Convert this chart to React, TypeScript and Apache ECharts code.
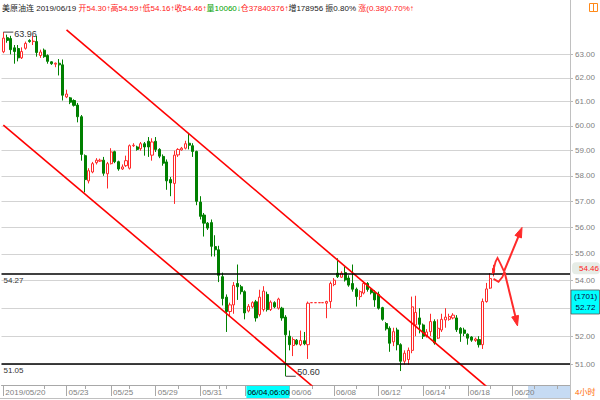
import React, { useEffect, useRef } from 'react';
import * as echarts from 'echarts';

const FONT = '"Liberation Sans", Arial, "Noto Sans CJK SC", sans-serif';
const RED = '#ff2a2a';
const GREEN = '#008000';

// x axis (4-hour bars)
const slotCount = 153;
const tickLabels = ['2019/05/20', '05/23', '05/25', '05/29', '05/31', '06/04', '06/06', '06/08', '06/12', '06/14', '06/18', '06/20'];
const tickIndex = [0, 17, 29, 41, 53, 65, 77, 89, 101, 113, 125, 137];
const minorTickIndex = [11, 22, 34, 47, 58, 60, 83, 95, 107, 119, 120, 131, 143, 149];

// y axis
const priceTicks = [51, 52, 53, 54, 55, 56, 57, 58, 59, 60, 61, 62, 63];
const priceMin = 50.3;
const priceMax = 64.49;
const levelLines = [54.27, 51.05];

// OHLC
const opens = [63.11, 63.72, 63.68, 63.28, 63.25, 62.85, 63.26, 63.60, 63.55, 63.55,
  62.95, 63.18, 62.95, 62.68, 62.58, 62.62, 62.55, 61.20, 61.16, 61.05,
  60.86, 60.38, 58.80, 57.80, 58.15, 58.52, 58.58, 58.62, 58.08, 58.48,
  58.96, 58.56, 58.27, 58.40, 58.30, 59.20, 59.15, 59.08, 59.28, 59.38,
  58.82, 59.38, 59.05, 58.77, 58.55, 57.85, 57.70, 58.83, 59.03, 59.10,
  59.30, 59.20, 58.97, 56.97, 56.47, 56.16, 56.18, 55.27, 55.15, 54.15,
  53.40, 52.88, 53.12, 53.90, 53.78, 53.60, 52.90, 53.05, 53.23, 52.77,
  52.95, 53.50, 52.95, 53.20, 53.00, 53.00, 52.68, 52.00, 51.67, 51.86,
  51.70, 51.84, 51.70, 53.20, 53.20, 53.20, 53.20, 53.18, 53.24, 53.86,
  54.28, 54.13, 54.30, 54.10, 53.90, 53.69, 53.42, 53.55, 53.90, 53.68,
  53.58, 53.50, 53.02, 52.45, 52.28, 51.80, 52.22, 51.70, 51.12, 51.18,
  51.50, 52.40, 52.65, 52.40, 52.00, 52.16, 52.52, 51.93, 52.22, 52.58,
  52.60, 52.65, 52.65, 52.28, 52.22, 52.07, 51.97, 51.85, 51.88, 51.70,
  53.24, 53.73, 54.30];
const closes = [63.70, 63.60, 63.20, 63.12, 62.85, 63.12, 63.47, 63.55, 63.57, 63.08,
  63.10, 62.90, 62.70, 62.60, 62.62, 62.55, 61.27, 61.32, 60.98, 60.85,
  60.38, 58.85, 57.85, 58.20, 58.48, 58.62, 58.62, 58.10, 58.48, 58.95,
  58.56, 58.27, 58.35, 58.60, 59.20, 59.22, 59.05, 59.28, 59.15, 59.15,
  59.35, 59.05, 58.78, 58.50, 57.80, 57.72, 58.82, 59.05, 59.10, 59.28,
  59.22, 58.97, 57.00, 56.42, 56.16, 55.97, 55.28, 55.15, 54.20, 53.35,
  52.88, 53.12, 53.83, 53.78, 53.60, 52.83, 53.07, 53.20, 52.65, 53.40,
  53.62, 52.95, 53.22, 53.05, 53.33, 52.65, 52.05, 51.70, 51.88, 51.72,
  51.85, 51.73, 53.18, 53.20, 53.20, 53.20, 53.20, 53.24, 53.90, 54.02,
  54.15, 54.28, 54.03, 53.84, 53.69, 53.42, 53.60, 53.90, 53.68, 53.56,
  53.30, 53.00, 52.60, 52.26, 51.75, 52.16, 51.70, 51.12, 51.40, 51.50,
  53.05, 52.85, 52.42, 52.00, 52.15, 52.52, 51.76, 52.28, 52.60, 52.68,
  52.70, 52.75, 52.23, 52.10, 52.10, 51.93, 51.86, 51.90, 51.70, 53.24,
  53.70, 54.08, 54.46];
const lows = [63.05, 63.50, 63.00, 62.60, 62.70, 62.80, 63.20, 63.50, 63.40, 62.90,
  62.85, 62.85, 62.60, 62.55, 62.45, 62.10, 61.05, 61.15, 60.90, 60.80,
  60.15, 58.60, 57.35, 57.70, 58.10, 58.45, 58.55, 58.00, 57.50, 58.45,
  58.50, 58.20, 58.23, 58.35, 58.25, 59.15, 59.00, 59.00, 58.80, 58.75,
  58.60, 58.95, 58.70, 58.40, 57.45, 57.20, 56.90, 58.75, 59.00, 59.05,
  59.05, 58.75, 56.85, 56.30, 55.65, 55.90, 54.90, 54.90, 53.95, 53.10,
  52.15, 52.70, 52.80, 53.30, 53.50, 52.60, 52.85, 53.00, 52.52, 52.70,
  52.88, 52.88, 52.90, 53.00, 52.95, 52.55, 50.60, 51.50, 51.30, 51.68,
  51.65, 51.68, 51.20, 53.20, 53.20, 53.20, 53.20, 52.64, 53.00, 53.80,
  54.10, 54.10, 53.97, 53.78, 53.60, 53.06, 53.30, 53.50, 53.60, 53.50,
  53.05, 52.95, 52.55, 52.20, 51.45, 51.65, 51.50, 50.78, 51.00, 51.00,
  51.40, 52.00, 52.10, 51.90, 51.95, 52.00, 51.70, 51.90, 52.15, 52.30,
  52.55, 52.60, 52.15, 51.80, 52.00, 51.70, 51.80, 51.80, 51.60, 51.55,
  53.20, 53.70, 54.16];
const highs = [63.96, 63.85, 63.80, 63.40, 63.40, 63.30, 63.55, 63.65, 63.80, 63.80,
  63.20, 63.25, 63.00, 62.70, 62.65, 62.80, 62.78, 61.50, 61.20, 61.10,
  60.95, 60.45, 58.85, 58.30, 58.55, 58.70, 58.68, 58.75, 58.55, 59.10,
  59.00, 58.60, 58.45, 58.80, 59.25, 59.30, 59.20, 59.35, 59.35, 59.55,
  59.50, 59.55, 59.10, 58.85, 58.65, 57.95, 59.00, 59.10, 59.15, 59.40,
  59.72, 59.30, 59.00, 57.20, 56.55, 56.20, 56.30, 55.70, 55.30, 54.30,
  53.50, 53.20, 53.95, 54.60, 53.85, 53.65, 53.15, 53.25, 53.30, 53.67,
  53.80, 53.60, 53.28, 53.25, 53.38, 53.05, 52.75, 52.20, 51.96, 51.90,
  52.20, 52.15, 53.24, 53.20, 53.20, 53.20, 53.20, 53.27, 53.97, 54.10,
  54.83, 54.35, 54.53, 54.20, 54.60, 53.75, 53.65, 53.95, 53.95, 53.72,
  53.65, 53.60, 53.05, 52.50, 52.35, 52.30, 52.30, 51.75, 51.50, 51.60,
  53.42, 53.45, 53.00, 52.45, 52.25, 52.80, 52.60, 52.60, 52.80, 53.00,
  52.80, 52.82, 52.75, 52.32, 52.30, 52.10, 52.00, 51.95, 52.00, 53.35,
  53.92, 54.28, 54.59];

// channel lines: [bar index, price]
const upperChannel = [[17, 64.06], [130, 50.25]];
const lowerChannel = [[0, 60.04], [84, 50.17]];

// annotations
const highMark = { index: 0, value: 63.96 };
const lowMark = { index: 76, value: 50.6 };
const lastBar = { index: 132, value: 54.46 };
const crossTime = { index: 65, label: '06/04,06:00' };
const crossPrice = ['(1701)', '52.72'];
const periodLabel = '4小时';

const headerParts: [string, string][] = [
  ['k', '美原油连 2019/06/19 '],
  ['r', '开54.30↑高54.59↑低54.16↑收54.46↑'],
  ['g', '量10060↓'],
  ['r', '仓37840376↑'],
  ['k', '增178956 振0.80% '],
  ['r', '涨(0.38)0.70%↑'],
];

const categories = Array.from({ length: slotCount }, (_, i) => String(i));
const labelMap: Record<number, string> = {};
tickIndex.forEach((idx, k) => { labelMap[idx] = tickLabels[k]; });
const minorSet = new Set(minorTickIndex);
const candleData = opens.map((o, i) => [o, closes[i], lows[i], highs[i]]);
// the crosshair time box covers the label under it
const showLabel = (i: number) => labelMap[i] !== undefined && i !== crossTime.index;

export default function App() {
  const ref = useRef<HTMLDivElement>(null);
  useEffect(() => {
    const chart = echarts.init(ref.current!, null, { renderer: 'svg' });
    const option: any = {
      animation: false,
      backgroundColor: '#ffffff',
      textStyle: { fontFamily: FONT },
      grid: { left: 1.5, right: 30, top: 20, bottom: 15, containLabel: false, outerBoundsMode: 'none' },
      xAxis: [
        {
          type: 'category',
          data: categories,
          boundaryGap: true,
          axisLine: { show: true, lineStyle: { color: '#a8a8a8' } },
          axisTick: {
            show: true, alignWithLabel: true, length: 11,
            interval: (i: number) => labelMap[i] !== undefined,
            lineStyle: { color: '#a8a8a8' },
          },
          axisLabel: {
            interval: (i: number) => showLabel(i),
            formatter: (v: string) => (showLabel(Number(v)) ? labelMap[Number(v)] : ''),
            align: 'left', margin: 3, padding: [0, 0, 0, 2],
            fontSize: 8, color: '#808080', fontFamily: FONT, hideOverlap: false,
          },
          splitLine: { show: false },
        },
        {
          type: 'category',
          data: categories,
          position: 'bottom',
          boundaryGap: true,
          axisLine: { show: false },
          axisLabel: { show: false },
          axisTick: {
            show: true, alignWithLabel: true, length: 4,
            interval: (i: number) => minorSet.has(i),
            lineStyle: { color: '#a8a8a8' },
          },
          splitLine: { show: false },
        },
      ],
      yAxis: {
        type: 'log',
        logBase: 10,
        min: priceMin,
        max: priceMax,
        position: 'right',
        axisLine: { show: true, lineStyle: { color: '#b8b8b8' } },
        axisTick: { show: true, customValues: priceTicks, length: 3, lineStyle: { color: '#b8b8b8' } },
        axisLabel: {
          customValues: priceTicks,
          formatter: (v: number) => Number(v).toFixed(2),
          fontSize: 8, color: '#808080', margin: 5, fontFamily: FONT,
        },
        splitLine: { show: true, lineStyle: { color: '#d3d3d3', width: 1.2 } },
      },
      series: [
        {
          type: 'candlestick',
          xAxisIndex: 0,
          yAxisIndex: 0,
          data: candleData,
          barWidth: 2.6,
          itemStyle: {
            color: '#ffffff', borderColor: RED,
            color0: GREEN, borderColor0: GREEN,
            borderWidth: 1,
          },
          markLine: {
            silent: true,
            symbol: 'none',
            lineStyle: { color: '#000000', width: 1.6, type: 'solid' },
            label: {
              show: true, position: 'insideStartBottom', distance: [2, 3],
              formatter: (p: any) => Number(p.value).toFixed(2),
              color: '#333333', fontSize: 8, fontFamily: FONT,
            },
            data: levelLines.map((v) => ({ yAxis: v })),
          },
          z: 3,
        },
        {
          type: 'line', xAxisIndex: 0, yAxisIndex: 0, data: upperChannel,
          symbol: 'none', silent: true, clip: true,
          lineStyle: { color: '#ff0000', width: 1.6 }, z: 4,
        },
        {
          type: 'line', xAxisIndex: 0, yAxisIndex: 0, data: lowerChannel,
          symbol: 'none', silent: true, clip: true,
          lineStyle: { color: '#ff0000', width: 1.6 }, z: 4,
        },
      ],
    };
    chart.setOption(option);

    const px = (i: number, v: number) => chart.convertToPixel({ seriesIndex: 0 }, [i, v]) as number[];
    const ph = px(highMark.index, highMark.value);
    const pl = px(lowMark.index, lowMark.value);
    const pa = px(lastBar.index, lastBar.value);
    const pt = px(crossTime.index, lastBar.value);
    const ax = pa[0];
    const ay = pa[1];
    const rel = (pts: number[][]) => pts.map(([dx, dy]) => [ax + dx, ay + dy]);
    const arrowStyle = { stroke: RED, lineWidth: 1.8, fill: 'none' };

    const rich: any = {
      k: { fill: '#222222', fontSize: 8, fontFamily: FONT },
      r: { fill: '#ff2020', fontSize: 8, fontFamily: FONT },
      g: { fill: '#00a000', fontSize: 8, fontFamily: FONT },
    };
    const headerText = headerParts.map(([s, t]) => `{${s}|${t}}`).join('');

    chart.setOption({
      graphic: [
        { type: 'line', z: 1, shape: { x1: 570.5, y1: 0, x2: 570.5, y2: 400 }, style: { stroke: '#c0c0c0', lineWidth: 1 } },
        { type: 'line', z: 1, shape: { x1: 0, y1: 398.5, x2: 570, y2: 398.5 }, style: { stroke: '#c0c0c0', lineWidth: 1 } },
        { type: 'rect', z: 0, shape: { x: 528, y: 386, width: 42, height: 12 }, style: { fill: '#c6dbf3' } },
        {
          type: 'text', x: 2, y: 4, z: 10,
          style: { text: headerText, rich, fontSize: 8, fontFamily: FONT, verticalAlign: 'top' },
        },
        { type: 'rect', z: 10, shape: { x: 589.5, y: 3.5, width: 8, height: 8 }, style: { fill: 'none', stroke: '#ff8a1a', lineWidth: 1 } },
        { type: 'line', z: 10, shape: { x1: 593.5, y1: 3.5, x2: 593.5, y2: 11.5 }, style: { stroke: '#ff8a1a', lineWidth: 1 } },
        // high / low brackets
        { type: 'polyline', z: 10, shape: { points: [[ph[0], ph[1]], [ph[0] + 10, ph[1]]] }, style: { stroke: '#444', lineWidth: 1, fill: 'none' } },
        { type: 'text', z: 10, x: ph[0] + 11, y: ph[1] + 1.5, style: { text: highMark.value.toFixed(2), fill: '#333', fontSize: 9, fontFamily: FONT, verticalAlign: 'middle' } },
        { type: 'polyline', z: 10, shape: { points: [[pl[0], pl[1]], [pl[0] + 10, pl[1]]] }, style: { stroke: '#444', lineWidth: 1, fill: 'none' } },
        { type: 'text', z: 10, x: pl[0] + 11.5, y: pl[1] + 0.5, style: { text: lowMark.value.toFixed(2), fill: '#333', fontSize: 9, fontFamily: FONT, verticalAlign: 'bottom' } },
        // last price tag
        { type: 'rect', z: 10, shape: { x: 572, y: ay - 6, width: 28, height: 12, r: 4 }, style: { fill: '#e6ece6' } },
        { type: 'text', z: 11, x: 579, y: ay, style: { text: lastBar.value.toFixed(2), fill: '#ff2020', fontSize: 8, fontFamily: FONT, verticalAlign: 'middle' } },
        // crosshair price box
        { type: 'rect', z: 10, shape: { x: 571, y: 290, width: 28.5, height: 24 }, style: { fill: '#00ffff', stroke: '#555', lineWidth: 0.8 } },
        { type: 'text', z: 11, x: 585.5, y: 296.5, style: { text: crossPrice[0], fill: '#0a0a40', fontSize: 8, fontFamily: FONT, align: 'center', verticalAlign: 'middle' } },
        { type: 'text', z: 11, x: 585.5, y: 307.5, style: { text: crossPrice[1], fill: '#0a0a40', fontSize: 8, fontFamily: FONT, align: 'center', verticalAlign: 'middle' } },
        // crosshair time box
        { type: 'rect', z: 10, shape: { x: pt[0] + 1.5, y: 386, width: 43, height: 12 }, style: { fill: '#00ffff' } },
        { type: 'text', z: 11, x: pt[0] + 2.5, y: 392, style: { text: crossTime.label, fill: '#000', fontSize: 8, fontFamily: FONT, verticalAlign: 'middle' } },
        // period label
        { type: 'text', z: 11, x: 575, y: 392, style: { text: periodLabel, fill: '#ff6a00', fontSize: 8, fontFamily: FONT, verticalAlign: 'middle' } },
        // hand-drawn arrows
        { type: 'polyline', z: 12, shape: { points: rel([[-1.3, 5.6], [1.7, -6.4], [3.7, -10.4], [6.7, -4.4], [10.2, 3.1]]) }, style: arrowStyle },
        { type: 'polyline', z: 12, shape: { points: rel([[-0.3, 10.6], [4.7, 13.6], [8.7, 8.6], [10.7, 3.1]]) }, style: arrowStyle },
        { type: 'polyline', z: 12, shape: { points: rel([[10.2, 3.1], [25.7, -34.4]]) }, style: { ...arrowStyle, lineWidth: 2 } },
        { type: 'polygon', z: 12, shape: { points: rel([[28.2, -40.9], [27.6, -30.3], [21.2, -32.9]]) }, style: { fill: RED, stroke: RED, lineWidth: 1 } },
        { type: 'polyline', z: 12, shape: { points: rel([[10.7, 3.6], [21.7, 48.6]]) }, style: { ...arrowStyle, lineWidth: 2 } },
        { type: 'polygon', z: 12, shape: { points: rel([[23.7, 57.6], [24.7, 47.1], [17.9, 48.7]]) }, style: { fill: RED, stroke: RED, lineWidth: 1 } },
      ],
    });
    return () => chart.dispose();
  }, []);
  return <div ref={ref} style={{ position: 'absolute', left: 0, top: 0, width: 600, height: 400, background: '#fff' }} />;
}
